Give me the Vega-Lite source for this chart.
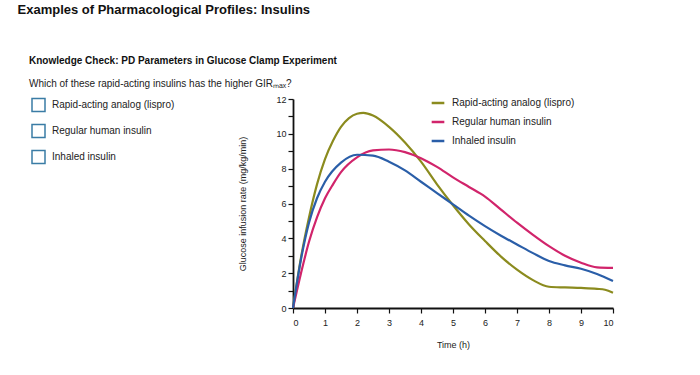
{
  "$schema": "https://vega.github.io/schema/vega-lite/v6.json",
  "padding": {"left": 17, "top": 4, "right": 5, "bottom": 5},
  "config": {
    "font": "Liberation Sans",
    "view": {"stroke": null},
    "axis": {"labelFontSize": 9, "titleFontSize": 9, "titleFontWeight": "normal", "labelColor": "#222", "titleColor": "#222", "domainColor": "#111", "tickColor": "#111", "grid": false}
  },
  "title": {"text": "Examples of Pharmacological Profiles: Insulins", "anchor": "start", "fontSize": 13, "fontWeight": "bold", "color": "#111", "dx": -11.5, "offset": 39},
  "vconcat": [
    {
      "title": {"text": "Knowledge Check: PD Parameters in Glucose Clamp Experiment", "subtitle": "Which of these rapid-acting insulins has the higher GIRₘₐₓ?", "anchor": "start", "fontSize": 10, "fontWeight": "bold", "color": "#111", "subtitleFontSize": 10, "subtitleColor": "#222", "subtitlePadding": 13, "offset": 6, "dx": 0},
      "bounds": "flush",
      "spacing": 248,
      "hconcat": [
        {
          "width": 13,
          "height": 64,
          "data": {"values": [
            {"label": "Rapid-acting analog (lispro)", "order": 1},
            {"label": "Regular human insulin", "order": 2},
            {"label": "Inhaled insulin", "order": 3}
          ]},
          "encoding": {
            "y": {"field": "label", "type": "nominal", "sort": {"field": "order"}, "scale": {"type": "point", "padding": 0.23}, "axis": null}
          },
          "layer": [
            {"mark": {"type": "point", "shape": "square", "filled": false, "size": 169, "stroke": "#3a7ca5", "strokeWidth": 1.5, "opacity": 1}},
            {"mark": {"type": "text", "align": "left", "baseline": "middle", "dx": 13.5, "fontSize": 10, "color": "#222"}, "encoding": {"text": {"field": "label"}}}
          ]
        },
        {
          "width": 320,
          "height": 209,
          "data": {"values": [
            {"insulin": "Rapid-acting analog (lispro)", "t": 0, "gir": 0},
            {"insulin": "Rapid-acting analog (lispro)", "t": 0.25, "gir": 2.9},
            {"insulin": "Rapid-acting analog (lispro)", "t": 0.5, "gir": 5.2},
            {"insulin": "Rapid-acting analog (lispro)", "t": 0.75, "gir": 7.1},
            {"insulin": "Rapid-acting analog (lispro)", "t": 1, "gir": 8.55},
            {"insulin": "Rapid-acting analog (lispro)", "t": 1.25, "gir": 9.6},
            {"insulin": "Rapid-acting analog (lispro)", "t": 1.5, "gir": 10.4},
            {"insulin": "Rapid-acting analog (lispro)", "t": 1.75, "gir": 10.9},
            {"insulin": "Rapid-acting analog (lispro)", "t": 2, "gir": 11.15},
            {"insulin": "Rapid-acting analog (lispro)", "t": 2.2, "gir": 11.2},
            {"insulin": "Rapid-acting analog (lispro)", "t": 2.5, "gir": 11.05},
            {"insulin": "Rapid-acting analog (lispro)", "t": 3, "gir": 10.4},
            {"insulin": "Rapid-acting analog (lispro)", "t": 3.5, "gir": 9.5},
            {"insulin": "Rapid-acting analog (lispro)", "t": 4, "gir": 8.4},
            {"insulin": "Rapid-acting analog (lispro)", "t": 4.5, "gir": 7.1},
            {"insulin": "Rapid-acting analog (lispro)", "t": 5, "gir": 5.9},
            {"insulin": "Rapid-acting analog (lispro)", "t": 5.5, "gir": 4.8},
            {"insulin": "Rapid-acting analog (lispro)", "t": 6, "gir": 3.85},
            {"insulin": "Rapid-acting analog (lispro)", "t": 6.5, "gir": 2.95},
            {"insulin": "Rapid-acting analog (lispro)", "t": 7, "gir": 2.2},
            {"insulin": "Rapid-acting analog (lispro)", "t": 7.5, "gir": 1.6},
            {"insulin": "Rapid-acting analog (lispro)", "t": 8, "gir": 1.22},
            {"insulin": "Rapid-acting analog (lispro)", "t": 8.5, "gir": 1.18},
            {"insulin": "Rapid-acting analog (lispro)", "t": 9, "gir": 1.15},
            {"insulin": "Rapid-acting analog (lispro)", "t": 9.5, "gir": 1.1},
            {"insulin": "Rapid-acting analog (lispro)", "t": 9.75, "gir": 1.05},
            {"insulin": "Rapid-acting analog (lispro)", "t": 10, "gir": 0.88},
            {"insulin": "Regular human insulin", "t": 0, "gir": 0},
            {"insulin": "Regular human insulin", "t": 0.25, "gir": 2.0},
            {"insulin": "Regular human insulin", "t": 0.5, "gir": 3.8},
            {"insulin": "Regular human insulin", "t": 0.75, "gir": 5.2},
            {"insulin": "Regular human insulin", "t": 1, "gir": 6.3},
            {"insulin": "Regular human insulin", "t": 1.25, "gir": 7.1},
            {"insulin": "Regular human insulin", "t": 1.5, "gir": 7.8},
            {"insulin": "Regular human insulin", "t": 2, "gir": 8.65},
            {"insulin": "Regular human insulin", "t": 2.5, "gir": 9.05},
            {"insulin": "Regular human insulin", "t": 3, "gir": 9.1},
            {"insulin": "Regular human insulin", "t": 3.5, "gir": 8.95},
            {"insulin": "Regular human insulin", "t": 4, "gir": 8.6},
            {"insulin": "Regular human insulin", "t": 4.5, "gir": 8.1},
            {"insulin": "Regular human insulin", "t": 5, "gir": 7.5},
            {"insulin": "Regular human insulin", "t": 5.5, "gir": 6.95},
            {"insulin": "Regular human insulin", "t": 6, "gir": 6.4},
            {"insulin": "Regular human insulin", "t": 6.5, "gir": 5.65},
            {"insulin": "Regular human insulin", "t": 7, "gir": 4.9},
            {"insulin": "Regular human insulin", "t": 7.5, "gir": 4.2},
            {"insulin": "Regular human insulin", "t": 8, "gir": 3.55},
            {"insulin": "Regular human insulin", "t": 8.5, "gir": 3.0},
            {"insulin": "Regular human insulin", "t": 9, "gir": 2.6},
            {"insulin": "Regular human insulin", "t": 9.5, "gir": 2.33},
            {"insulin": "Regular human insulin", "t": 10, "gir": 2.3},
            {"insulin": "Inhaled insulin", "t": 0, "gir": 0},
            {"insulin": "Inhaled insulin", "t": 0.25, "gir": 2.8},
            {"insulin": "Inhaled insulin", "t": 0.5, "gir": 4.9},
            {"insulin": "Inhaled insulin", "t": 0.75, "gir": 6.3},
            {"insulin": "Inhaled insulin", "t": 1, "gir": 7.25},
            {"insulin": "Inhaled insulin", "t": 1.5, "gir": 8.35},
            {"insulin": "Inhaled insulin", "t": 2, "gir": 8.8},
            {"insulin": "Inhaled insulin", "t": 2.5, "gir": 8.75},
            {"insulin": "Inhaled insulin", "t": 3, "gir": 8.4},
            {"insulin": "Inhaled insulin", "t": 3.5, "gir": 7.9},
            {"insulin": "Inhaled insulin", "t": 4, "gir": 7.25},
            {"insulin": "Inhaled insulin", "t": 4.5, "gir": 6.6},
            {"insulin": "Inhaled insulin", "t": 5, "gir": 5.95},
            {"insulin": "Inhaled insulin", "t": 5.5, "gir": 5.3},
            {"insulin": "Inhaled insulin", "t": 6, "gir": 4.7},
            {"insulin": "Inhaled insulin", "t": 6.5, "gir": 4.15},
            {"insulin": "Inhaled insulin", "t": 7, "gir": 3.65},
            {"insulin": "Inhaled insulin", "t": 7.5, "gir": 3.15},
            {"insulin": "Inhaled insulin", "t": 8, "gir": 2.7},
            {"insulin": "Inhaled insulin", "t": 8.5, "gir": 2.45},
            {"insulin": "Inhaled insulin", "t": 9, "gir": 2.25},
            {"insulin": "Inhaled insulin", "t": 9.5, "gir": 1.95},
            {"insulin": "Inhaled insulin", "t": 10, "gir": 1.55}
          ]},
          "mark": {"type": "line", "interpolate": "monotone", "strokeWidth": 2.2},
          "encoding": {
            "x": {"field": "t", "type": "quantitative", "title": "Time (h)", "scale": {"domain": [0, 10], "nice": false},
                  "axis": {"values": [0,1,2,3,4,5,6,7,8,9,10], "tickSize": 5, "tickWidth": 1.2, "domainWidth": 1.8, "labelPadding": 5, "titlePadding": 13}},
            "y": {"field": "gir", "type": "quantitative", "title": "Glucose infusion rate (mg/kg/min)", "scale": {"domain": [0, 12], "nice": false},
                  "axis": {"values": [0,1,2,3,4,5,6,7,8,9,10,11,12], "labelExpr": "datum.value % 2 === 0 ? datum.label : ''", "tickSize": 5, "tickWidth": 1.2, "domainWidth": 1.8, "labelPadding": 2, "titlePadding": 28}},
            "color": {"field": "insulin", "type": "nominal",
                      "scale": {"domain": ["Rapid-acting analog (lispro)", "Regular human insulin", "Inhaled insulin"], "range": ["#8b8b1e", "#d1246b", "#2a5ea8"]},
                      "legend": {"title": null, "orient": "none", "legendX": 398, "legendY": -4, "symbolType": "stroke", "symbolSize": 160, "symbolStrokeWidth": 2.5, "labelFontSize": 10, "labelColor": "#222", "rowPadding": 6, "labelOffset": 6}}
          }
        }
      ]
    }
  ]
}
